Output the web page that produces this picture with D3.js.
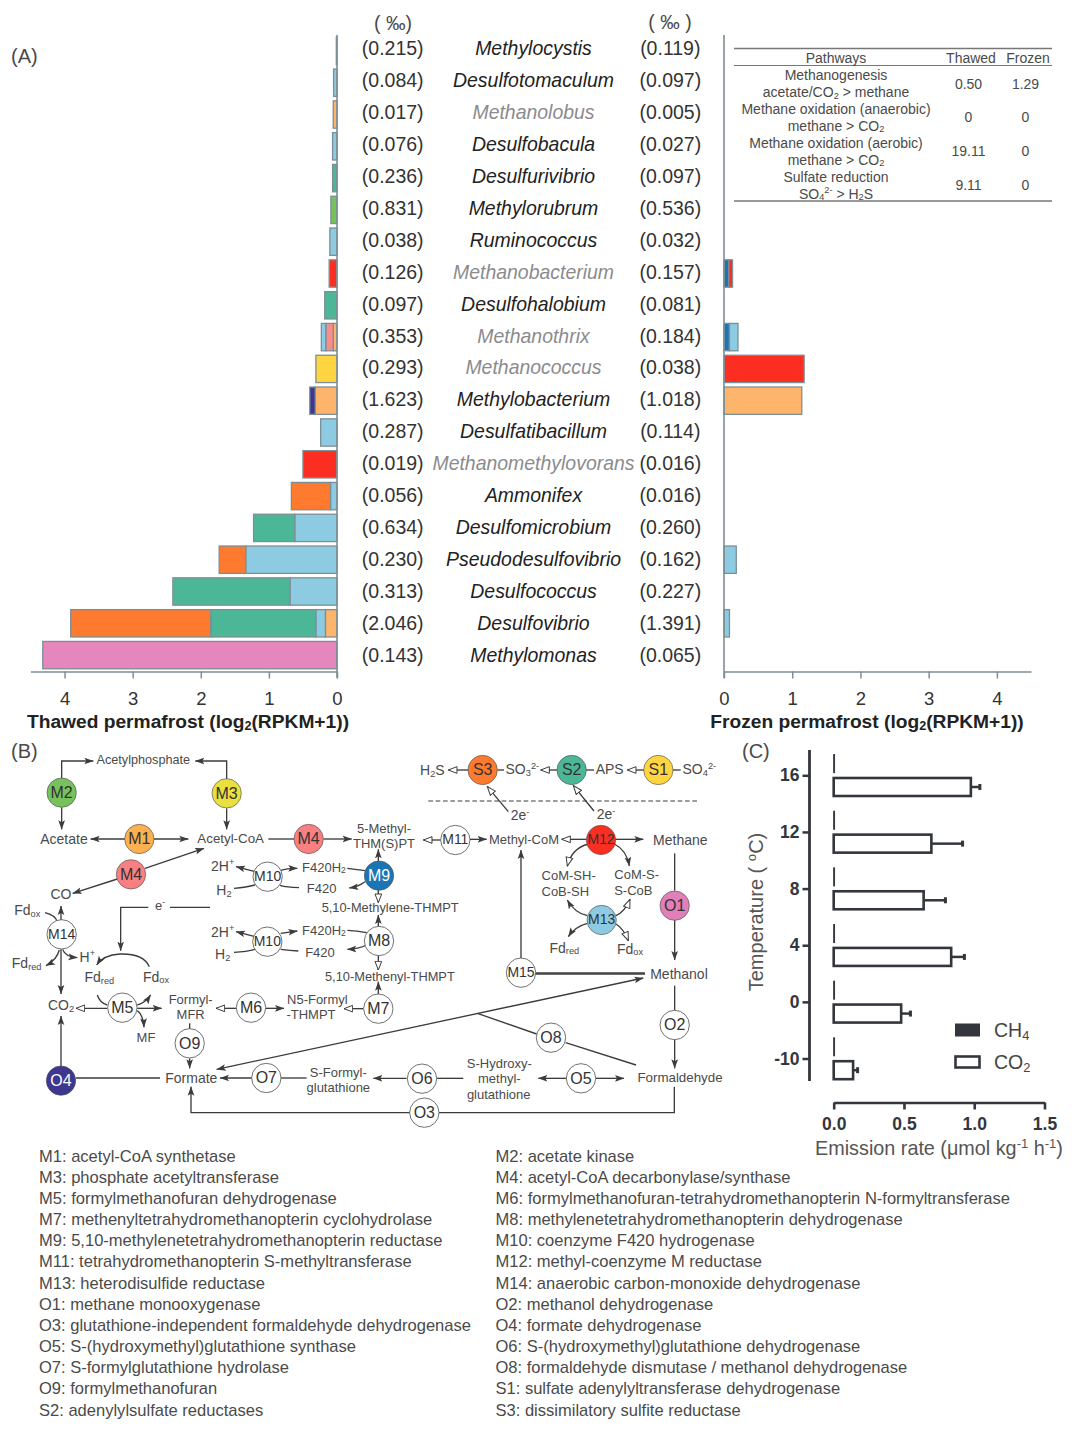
<!DOCTYPE html>
<html><head><meta charset="utf-8">
<script src="https://cdn.jsdelivr.net/npm/d3@7"></script>
<style>
html,body{margin:0;padding:0;background:#fff}
svg{display:block}
text{font-family:"Liberation Sans",Arial,sans-serif}
</style></head><body>
<svg id="c" width="1080" height="1429"></svg>
<script>
// ---------- Panel A data ----------
const species=["Methylocystis","Desulfotomaculum","Methanolobus","Desulfobacula","Desulfurivibrio","Methylorubrum","Ruminococcus","Methanobacterium","Desulfohalobium","Methanothrix","Methanococcus","Methylobacterium","Desulfatibacillum","Methanomethylovorans","Ammonifex","Desulfomicrobium","Pseudodesulfovibrio","Desulfococcus","Desulfovibrio","Methylomonas"];
const archaea=["Methanolobus","Methanobacterium","Methanothrix","Methanococcus","Methanomethylovorans"];
const thawedPermil=["0.215","0.084","0.017","0.076","0.236","0.831","0.038","0.126","0.097","0.353","0.293","1.623","0.287","0.019","0.056","0.634","0.230","0.313","2.046","0.143"];
const frozenPermil=["0.119","0.097","0.005","0.027","0.097","0.536","0.032","0.157","0.081","0.184","0.038","1.018","0.114","0.016","0.016","0.260","0.162","0.227","1.391","0.065"];
const thawedStacks=[
 [["sky",0.01]],[["sky",0.05]],[["apricot",0.055]],[["sky",0.065]],[["teal",0.065]],[["green",0.09]],[["sky",0.105]],[["red",0.115]],[["teal",0.18]],
 [["apricot",0.055],["salmon",0.11],["sky",0.065]],[["yellow",0.31]],[["apricot",0.32],["navy",0.08]],[["sky",0.24]],[["red",0.5]],
 [["sky",0.095],["orange",0.575]],[["sky",0.62],["teal",0.605]],[["sky",1.34],["orange",0.39]],[["sky",0.69],["teal",1.72]],
 [["apricot",0.17],["sky",0.14],["teal",1.545],["orange",2.055]],[["pink",4.32]]];
const frozenStacks=[[],[],[],[],[],[],[],[["blue",0.07],["red",0.055]],[],[["blue",0.08],["sky",0.125]],[["red",1.175]],[["apricot",1.14]],[],[],[],[],[["sky",0.18]],[],[["sky",0.08]],[]];
const palette={sky:"#8ccbe2",teal:"#4cb797",orange:"#fd7a2e",apricot:"#fdb46b",red:"#fc2e21",pink:"#e587bc",yellow:"#fed541",green:"#76c25c",navy:"#3d378f",blue:"#1a75b4",salmon:"#f98b8c"};
const abTicks=[0,1,2,3,4];
// table
const tableHead=["Pathways","Thawed","Frozen"];
const tablePathways=[["Methanogenesis","acetate/CO~2~ > methane"],["Methane oxidation (anaerobic)","methane > CO~2~"],["Methane oxidation (aerobic)","methane > CO~2~"],["Sulfate reduction","SO~4~^2-^ > H~2~S"]];
const tableThawed=["0.50","0","19.11","9.11"];
const tableFrozen=["1.29","0","0","0"];
// ---------- Panel C data ----------
const temps=["16","12","8","4","0","-10"];
const co2=[0.976,0.695,0.64,0.836,0.48,0.138];
const co2Err=[0.064,0.222,0.155,0.094,0.066,0.032];
const ch4=[0.006,0.006,0.006,0.006,0.006,0.006];
const rateTicks=[0,0.5,1,1.5];
// ---------- Panel B content ----------
const enzymesLeft=["M1: acetyl-CoA synthetase","M3: phosphate acetyltransferase","M5: formylmethanofuran dehydrogenase","M7: methenyltetrahydromethanopterin cyclohydrolase","M9: 5,10-methylenetetrahydromethanopterin reductase","M11: tetrahydromethanopterin S-methyltransferase","M13: heterodisulfide reductase","O1: methane monooxygenase","O3: glutathione-independent formaldehyde dehydrogenase","O5: S-(hydroxymethyl)glutathione synthase","O7: S-formylglutathione hydrolase","O9: formylmethanofuran","S2: adenylylsulfate reductases"];
const enzymesRight=["M2: acetate kinase","M4: acetyl-CoA decarbonylase/synthase","M6: formylmethanofuran-tetrahydromethanopterin N-formyltransferase","M8: methylenetetrahydromethanopterin dehydrogenase","M10: coenzyme F420 hydrogenase","M12: methyl-coenzyme M reductase","M14: anaerobic carbon-monoxide dehydrogenase","O2: methanol dehydrogenase","O4: formate dehydrogenase","O6: S-(hydroxymethyl)glutathione dehydrogenase","O8: formaldehyde dismutase / methanol dehydrogenase","S1: sulfate adenylyltransferase dehydrogenase","S3: dissimilatory sulfite reductase"];

const svg=d3.select("#c");
const GREY="#7d8f96", TXT="#333", SOFT="#4a4a4a";

// rich text: ~sub~ and ^sup^
function rich(sel,str){
  const parts=str.split(/(~[^~]+~|\^[^^]+\^)/).filter(s=>s.length);
  let shift=0;
  parts.forEach(p=>{
    const k=p[0]==="~"&&p.length>2?1:p[0]==="^"&&p.length>2?-1:0;
    const t=sel.append("tspan").text(k?p.slice(1,-1):p);
    const want=k*0.38, d=want-shift;
    if(d) t.attr("dy",d*(k?1:0.66)+"em");
    if(k) t.attr("font-size","66%");
    shift=want;
    if(!k&&d) shift=0;
  });
}
function label(g,str,x,y,size,opt={}){
  const t=g.append("text").attr("x",x).attr("y",y).attr("font-size",size)
    .attr("text-anchor",opt.anchor||"middle").attr("dominant-baseline","central")
    .attr("fill",opt.fill||SOFT);
  if(opt.weight)t.attr("font-weight",opt.weight);
  if(opt.style)t.attr("font-style",opt.style);
  if(opt.rotate)t.attr("transform",`rotate(${opt.rotate} ${x} ${y})`);
  rich(t,str);
  return t;
}

// ---------- Panel A ----------
label(svg,"(A)",11,56,20,{anchor:"start"});
const band=d3.scaleBand().domain(species).range([35,671]).paddingInner(0.14).paddingOuter(0.07);
const row=d3.scalePoint().domain(species).range([48,655]);
const xT=d3.scaleLinear().domain([0,4.5]).range([337,30.5]);
const xF=d3.scaleLinear().domain([0,4.5]).range([724,1031]);

function stacks(data,x){
  const g=svg.append("g");
  data.forEach((segs,i)=>{
    let acc=0;
    segs.forEach(([c,v])=>{
      const a=x(acc),b=x(acc+v);acc+=v;
      g.append("rect").attr("x",Math.min(a,b)).attr("width",Math.abs(b-a))
       .attr("y",band(species[i])).attr("height",band.bandwidth())
       .attr("fill",palette[c]).attr("stroke",GREY).attr("stroke-width",1.3);
    });
  });
}
stacks(thawedStacks,xT);stacks(frozenStacks,xF);

function barAxis(x){
  const a=svg.append("g").attr("transform","translate(0,671.5)")
    .call(d3.axisBottom(x).tickValues(abTicks).tickSize(7).tickSizeOuter(0).tickPadding(13).tickFormat(d3.format("d")));
  a.selectAll("path,line").attr("stroke",GREY).attr("stroke-width",1.5);
  a.selectAll("text").attr("font-size",18.5).attr("fill","#333").attr("font-family",'"Liberation Sans",Arial,sans-serif');
  svg.append("line").attr("x1",x(0)).attr("x2",x(0)).attr("y1",35).attr("y2",678).attr("stroke",GREY).attr("stroke-width",1.6);
}
barAxis(xT);barAxis(xF);
label(svg,"Thawed permafrost (log~2~(RPKM+1))",188,721,19.2,{weight:"bold",fill:"#222"});
label(svg,"Frozen permafrost (log~2~(RPKM+1))",867,721,19.2,{weight:"bold",fill:"#222"});
label(svg,"( ‰)",393,23,19.5,{});
label(svg,"( ‰ )",670,22,19.5,{});
species.forEach((s,i)=>{
  const y=row(s);
  label(svg,`(${thawedPermil[i]})`,392.7,y,19.5,{fill:"#333"});
  label(svg,`(${frozenPermil[i]})`,670.3,y,19.5,{fill:"#333"});
  label(svg,s,533.5,y,19.45,{style:"italic",fill:archaea.includes(s)?"#8b8b8e":"#222"});
});

// table
[[48.5,1.5],[65.5,1],[201,1.5]].forEach(([y,w])=>svg.append("line").attr("x1",734).attr("x2",1052).attr("y1",y).attr("y2",y).attr("stroke","#777").attr("stroke-width",w));
[836,971,1028].forEach((x,i)=>label(svg,tableHead[i],x,58,14,{}));
tablePathways.forEach((p,i)=>{
  const y0=75+33.9*i;
  label(svg,p[0],836,y0,14,{});label(svg,p[1],836,y0+17,14,{});
  label(svg,tableThawed[i],968.5,y0+8.5,14,{});
  label(svg,tableFrozen[i],1025.5,y0+8.5,14,{});
});

// ---------- Panel B ----------
label(svg,"(B)",11,751,20,{anchor:"start"});
const INK="#3c3c3c";
const defs=svg.append("defs");
defs.append("marker").attr("id","fill").attr("markerUnits","userSpaceOnUse").attr("viewBox","0 0 28 22")
  .attr("markerWidth",28).attr("markerHeight",22).attr("refX",27).attr("refY",11).attr("orient","auto-start-reverse")
  .append("path").attr("d","M0 1L28 11L0 21L6 11Z").attr("fill",INK);
defs.append("marker").attr("id","open").attr("markerUnits","userSpaceOnUse").attr("viewBox","0 0 30 26")
  .attr("markerWidth",30).attr("markerHeight",26).attr("refX",28).attr("refY",13).attr("orient","auto")
  .append("path").attr("d","M2 3L28 13L2 23Z").attr("fill","#fff").attr("stroke",INK).attr("stroke-width",3);

const edgesL=[
["M185 118V63H280","f"],["M680 118V63H586","f"],["M185 202V268","f"],["M680 205V268","f"],
["M375 297H272","f"],["M462 297H565","f"],["M805 297H882","n"],["M970 297H1055","f"],
["M435 385L612 325","f"],["M352 417L218 460","f"],
["M765 395L708 380","f"],["M840 392Q860 385 892 385","f"],["M702 445Q740 442 765 435","n"],["M840 436Q860 442 897 443","n"],
["M1042 385L1095 392","n"],["M1095 425Q1075 440 1048 444","f"],["M1135 365V328","f"],["M1135 450V488","o"],
["M1135 575V525","f"],["M1135 645V690","o"],["M1135 765V725","f"],
["M765 590L708 575","f"],["M842 580L892 573","f"],["M702 637Q740 635 765 628","n"],["M842 628Q870 632 895 633","n"],
["M1042 571Q1070 572 1100 578","n"],["M1100 615Q1075 627 1042 628","f"],
["M183 540V498","f"],["M135 518Q165 525 172 545","n"],["M183 628V762","f"],["M178 630Q170 660 138 677","f"],["M188 628Q195 650 232 653","f"],
["M630 502H510","n"],["M445 502H362V632","f"],["M448 680Q430 640 360 642Q310 645 290 675","f"],
["M322 805H228","o"],["M322 795Q300 790 292 765","n"],["M412 805H485","f"],["M412 795Q435 790 452 765","f"],["M412 812Q430 825 432 862","f"],
["M708 805H648","o"],["M797 805H852","f"],["M1090 806H1032","o"],
["M569 850V868","n"],["M569 955V985","f"],["M183 978V828","f"],["M228 1014H480","n"],
["M755 1014H660","f"],["M843 1014H920","n"],
["M1232 1118H573V1040","f"],["M1930 714L650 988","b"]
];
const edgesR=[
["M265 90H205","o"],["M352 90H372","n"],["M532 90H482","o"],["M618 90H642","n"],["M792 90H742","o"],["M878 90H902","n"],
["M385 215L322 140","o"],["M642 213L580 137","o"],
["M182 300H130","o"],["M270 298H320","f"],["M620 298H545","o"],["M705 298H790","f"],
["M625 312Q575 325 562 378","o"],["M703 312Q740 330 748 378","f"],
["M622 527Q585 520 562 480","f"],["M708 527Q735 515 750 478","o"],["M622 550Q585 560 565 590","f"],["M708 552Q730 565 745 602","o"],
["M423 655V330","f"],["M465 699H795","n"],["M465 702H795","n"],
["M884 340V452","n"],["M884 540V660","f"],["M884 737V812","n"],["M884 898V985","f"],
["M292 820L470 882","n"],["M557 908L768 975","n"],
["M560 1015H475","f"],["M648 1015H732","f"],["M80 1015H-20","f"],["M170 1015H250","n"],
["M175 1118H883V1040","n"]
];
const nodesL=[["M2",185,158,"#76c25c"],["M3",680,160,"#e8e03f"],["M1",418,297,"#fdb04f"],["M4",926,297,"#f98082"],["M4",393,403,"#f98082"],
["M10",803,410],["M9",1137,407,"#1a75b4","#fff"],["M14",185,583],["M10",802,605],["M8",1137,603],["M5",367,803],["M6",753,803],["M7",1135,806],["O9",569,910],["O4",183,1022,"#3d378f","#fff"],["O7",799,1014]];
const nodesR=[["S3",308,90,"#fd7a2e"],["S2",575,90,"#4cb797"],["S1",835,90,"#fed541"],["M11",226,300],["M12",663,300,"#fc2e21"],["O1",884,497,"#e07fb8"],["M13",665,540,"#8ccbe2"],["M15",423,698],["O2",884,855],["O8",513,893],["O5",603,1015],["O6",126,1016],["O3",133,1118]];
const textsL=[["Acetylphosphate",430,60,38],["Acetate",192,298,42],["Acetyl-CoA",692,295,40],["5-Methyl-",1152,263,39],["THM(S)PT",1152,308,39],
["CO",183,463,42],["Fd~ox~",82,510,42],["Fd~red~",80,670,42],["H^+^",262,650,42],["e^-^",480,495,39],
["2H^+^",668,378,42],["H~2~",672,450,42],["F420H~2~",972,381,39],["F420",965,443,39],["2H^+^",668,575,42],["H~2~",668,643,42],["F420H~2~",972,570,39],["F420",960,636,39],
["Fd~red~",298,711,42],["Fd~ox~",468,710,42],["CO~2~",183,795,42],["Formyl-",572,776,39],["MFR",572,823,39],["MF",438,891,39],["N5-Formyl",952,776,39],["-THMPT",933,821,39],
["Formate",574,1013,42],["S-Formyl-",1015,996,39],["glutathione",1015,1042,39]];
const textsStart=[["5,10-Methylene-THMPT",965,501,38.5],["5,10-Methenyl-THMPT",975,708,38.5]];
const textsR=[["H~2~S",157,90,42],["SO~3~^2-^",427,88,42],["APS",689,88,42],["SO~4~^2-^",958,88,42],["2e^-^",420,226,42],["2e^-^",678,223,42],
["Methyl-CoM",432,296,39],["Methane",901,301,42],["CoM-SH-",566,406,39],["CoB-SH",556,453,39],["CoM-S-",770,403,39],["S-CoB",760,450,39],["Fd~red~",553,623,42],["Fd~ox~",750,626,42],
["Methanol",897,701,42],["Formaldehyde",900,1012,40],["S-Hydroxy-",358,968,39],["methyl-",358,1014,39],["glutathione",356,1061,39]];

function drawPathway(g,edges,texts,nodes){
  edges.forEach(([d,k])=>{
    const p=g.append("path").attr("d",d).attr("fill","none").attr("stroke",INK).attr("stroke-width",4);
    if(k==="f"||k==="b")p.attr("marker-end","url(#fill)");
    if(k==="b")p.attr("marker-start","url(#fill)");
    if(k==="o")p.attr("marker-end","url(#open)");
  });
  texts.forEach(([s,x,y,f])=>label(g,s,x,y,f,{}));
  nodes.forEach(([s,x,y,fill,ink])=>{
    g.append("circle").attr("cx",x).attr("cy",y).attr("r",44).attr("fill",fill||"#fff").attr("stroke","#555").attr("stroke-width",fill?2:2.5);
    label(g,s,x,y-2,s.length>2?42:48,{fill:ink||"#333"});
  });
}
const gL=svg.append("g").attr("transform","translate(0,740) scale(0.33333)");
const gR=svg.append("g").attr("transform","translate(380,740) scale(0.33333)");
drawPathway(gL,edgesL,textsL,nodesL);
textsStart.forEach(([s,x,y,f])=>label(gL,s,x,y,f,{anchor:"start"}));
drawPathway(gR,edgesR,textsR,nodesR);
gR.append("path").attr("d","M145 183H955").attr("stroke",INK).attr("stroke-width",3.5).attr("stroke-dasharray","14 8").attr("fill","none");

// enzyme key
[[enzymesLeft,39],[enzymesRight,495.5]].forEach(([list,x])=>{
  const y=d3.scalePoint().domain(list).range([1155.5,1409.5]);
  list.forEach(s=>label(svg,s,x,y(s),16.55,{anchor:"start"}));
});

// ---------- Panel C ----------
label(svg,"(C)",742,751,20,{anchor:"start"});
const DARK="#33363c";
const xC=d3.scaleLinear().domain([0,1.5]).range([833.7,1044.5]);
const yC=d3.scalePoint().domain(temps).range([775.3,1058.5]);
const co2H=18,off=11.7;
const gC=svg.append("g");
temps.forEach((t,i)=>{
  const y=yC(t);
  gC.append("rect").attr("x",xC(0)).attr("y",y-off-co2H/2).attr("width",xC(ch4[i])-xC(0)).attr("height",co2H)
    .attr("fill",DARK).attr("stroke",DARK).attr("stroke-width",1);
  const cy=y+off;
  gC.append("line").attr("x1",xC(co2[i])).attr("x2",xC(co2[i]+co2Err[i])).attr("y1",cy).attr("y2",cy).attr("stroke",DARK).attr("stroke-width",2.5);
  gC.append("line").attr("x1",xC(co2[i]+co2Err[i])).attr("x2",xC(co2[i]+co2Err[i])).attr("y1",cy-3).attr("y2",cy+3).attr("stroke",DARK).attr("stroke-width",3);
  gC.append("rect").attr("x",xC(0)).attr("y",cy-co2H/2).attr("width",xC(co2[i])-xC(0)).attr("height",co2H)
    .attr("fill","#fff").attr("stroke",DARK).attr("stroke-width",2.6);
});
const ya=svg.append("g").attr("transform","translate(809.5,0)")
  .call(d3.axisLeft(yC).tickSize(7).tickPadding(3));
ya.select(".domain").remove();
ya.selectAll("line").attr("stroke",DARK).attr("stroke-width",2.5);
ya.selectAll("text").attr("font-size",17.5).attr("font-weight","bold").attr("fill",DARK).attr("font-family",'"Liberation Sans",Arial,sans-serif');
svg.append("line").attr("x1",809.5).attr("x2",809.5).attr("y1",750).attr("y2",1081).attr("stroke",DARK).attr("stroke-width",2.8);
const xa=svg.append("g").attr("transform","translate(0,1102.5)")
  .call(d3.axisBottom(xC).tickValues(rateTicks).tickSize(7).tickSizeOuter(0).tickPadding(8).tickFormat(d3.format(".1f")));
xa.selectAll("path,line").attr("stroke",DARK).attr("stroke-width",2.6);
xa.selectAll("text").attr("font-size",17.5).attr("font-weight","bold").attr("fill",DARK).attr("font-family",'"Liberation Sans",Arial,sans-serif');
label(svg,"Emission rate (μmol kg^-1^ h^-1^)",939,1148,19.8,{fill:"#555"});
label(svg,"Temperature ( ^o^C)",756,912,20,{fill:"#555",rotate:-90});
gC.append("rect").attr("x",955.5).attr("y",1024).attr("width",24).attr("height",12).attr("fill",DARK).attr("stroke",DARK);
gC.append("rect").attr("x",955.5).attr("y",1056.5).attr("width",24).attr("height",11).attr("fill","#fff").attr("stroke",DARK).attr("stroke-width",2.6);
label(svg,"CH~4~",994,1030,19.5,{anchor:"start",fill:"#444"});
label(svg,"CO~2~",994,1062,19.5,{anchor:"start",fill:"#444"});
</script></body></html>
